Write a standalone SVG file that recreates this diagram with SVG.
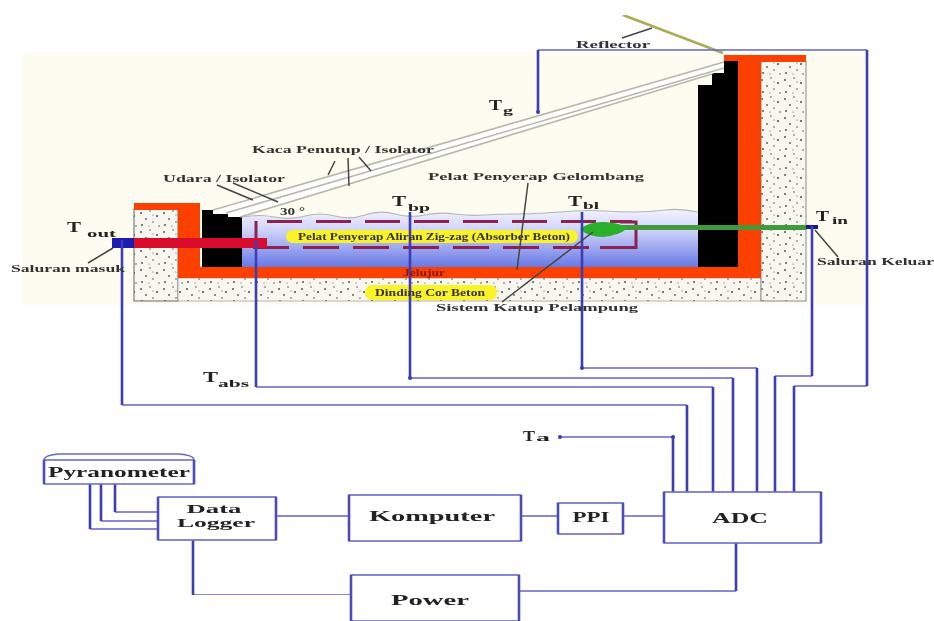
<svg xmlns="http://www.w3.org/2000/svg" width="934" height="621" viewBox="0 0 934 621">
<style>
.h{fill:none;stroke:#6464c6;stroke-width:1.6}
.v{fill:none;stroke:#3c3cb6;stroke-width:2.6}
.b{fill:#fff;stroke:#6a6ac8;stroke-width:1.6}
.sd{fill:none;stroke:#4c4cbc;stroke-width:2.6}
.l{font-family:"Liberation Serif",serif;font-weight:bold;fill:#222}
.s{font-size:10px;fill:#333}
.m{font-size:15px}
.T{font-size:15px}
.sub{font-size:10.5px}
.lead{fill:none;stroke:#444;stroke-width:1.5}
.or{fill:#fc3f05}
.k{fill:#000}
.gl{fill:none;stroke:#b8b8aa;stroke-width:1.6}
.dash{fill:none;stroke:#8c2050;stroke-width:3}
.yl{fill:#fbf32a}
.dot{fill:#3a3ab8}
</style>
<defs>
<linearGradient id="water" x1="0" y1="0" x2="0" y2="1"><stop offset="0" stop-color="#f2f2fe"/><stop offset=".35" stop-color="#d0d4fa"/><stop offset="1" stop-color="#6476e4"/></linearGradient>
<pattern id="conc" width="23" height="19" patternUnits="userSpaceOnUse">
<rect width="23" height="19" fill="#f7f7f0"/>
<g fill="#555"><circle cx="3" cy="4" r="1"/><circle cx="12" cy="2" r=".8"/><circle cx="19" cy="7" r="1.1"/><circle cx="8" cy="10" r=".9"/><circle cx="15" cy="13" r=".8"/><circle cx="4" cy="16" r="1"/><circle cx="21" cy="17" r=".8"/><circle cx="11" cy="17" r=".6"/><circle cx="15" cy="6" r=".6"/></g>
</pattern>
<filter id="soft" x="0" y="0" width="1" height="1"><feGaussianBlur stdDeviation="0.65"/></filter>
</defs>
<rect width="934" height="621" fill="#fff"/>
<g filter="url(#soft)">
<rect id="backdrop" x="22" y="52" width="848" height="253" fill="#fdfcf0"/>
<g id="collector">
<rect x="134" y="209" width="44" height="92" fill="url(#conc)" stroke="#666"/>
<rect x="178" y="278" width="583" height="23" fill="url(#conc)" stroke="#999" stroke-width=".7"/>
<rect x="761" y="61" width="45" height="240" fill="url(#conc)" stroke="#888"/>
<path d="M242 217Q260 214 275 217T305 216T335 216T365 215T395 214T425 215T455 214T485 215T515 214T545 213T575 211T605 211T635 212T665 210T698 212V268H242Z" fill="url(#water)" stroke="none"/>
<path d="M242 217Q260 214 275 217T305 216T335 216T365 215T395 214T425 215T455 214T485 215T515 214T545 213T575 211T605 211T635 212T665 210T698 212" fill="none" stroke="#b5b5b0" stroke-width="1.2"/>
<rect class="or" x="134" y="203" width="66" height="7"/>
<rect class="or" x="178" y="203" width="22" height="75"/>
<rect class="or" x="178" y="267" width="583" height="11"/>
<rect class="or" x="738" y="55" width="23" height="223"/>
<rect class="or" x="724" y="55" width="82" height="7"/>
<path class="k" d="M202 210H213V214H228V217H242V267H202Z"/>
<path class="k" d="M698 85H712V73H724V61H738V267H698Z"/>
<path d="M213 210L724 62V68L712 74L240 217L226 213Z" fill="#fff"/>
<path class="gl" d="M213 210L724 62M226 213L724 68M240 217L712 74"/>
<path d="M623 15L723 53" stroke="#a8ad55" stroke-width="2.5" fill="none"/>
<path class="dash" d="M256 247V221"/>
<path class="dash" stroke-dasharray="35 14" d="M267 221.500H632"/>
<path class="dash" stroke-dasharray="36 14" d="M253 247.500H590"/>
<path class="dash" d="M600 247.500H636V222H620"/>
<rect class="yl" x="286" y="230" width="292" height="13" rx="6.500"/>
<rect class="yl" x="365" y="285" width="132" height="15" rx="7"/>
<rect x="112" y="238" width="22" height="10" fill="#1a1ab0"/>
<rect x="134" y="238" width="133" height="10" fill="#d8102e"/>
<rect x="620" y="225" width="186" height="5" fill="#3f9a3a"/>
<path d="M580 229Q590 221 605 222Q620 223 628 228Q618 236 603 237Q588 237 580 229Z" fill="#2bb02b"/>
<rect x="806" y="225" width="12" height="4" fill="#16169a"/>
</g>
<g id="connectors">
<path class="h" d="M538 50H867M867 386H794M812 376H775M582 368H757M410 378H733M256 387H713M122 405H687M560 437H673M276 516H349M521 516H558M623 516H664M90 529H158M101 521H158M115 512H158M193 595H351M736 591H519"/>
<path class="v" d="M538 112V50M867 50V386M794 386V492M812 226V376M775 376V492M582 212V368M757 368V492M410 212V378M733 378V492M256 240V387M713 387V492M122 240V405M687 405V492M673 437V492M90 484V529M101 484V521M115 484V512M193 540V595M736 543V591"/>
<circle class="dot" cx="560" cy="437" r="2"/><circle class="dot" cx="673" cy="437" r="2"/>
<circle class="dot" cx="538" cy="112" r="2"/><circle class="dot" cx="410" cy="378" r="2"/><circle class="dot" cx="582" cy="368" r="2"/>
<path class="lead" d="M88 263L113 248M217 185L253 200M233 183L278 202M335 161L328 175M348 158L349 186M359 157L371 171M528 183L517 270M502 302L593 232M815 230L838 257M622 38L652 28"/>
</g>
</g>
<g filter="url(#soft)">
<g id="pyranometer"><path class="b" d="M44 484V460Q44 455 60 454H178Q194 455 194 460V484Z"/><path class="h" d="M44 460H194"/><path class="sd" d="M44 460V484M194 460V484"/><text class="l m" x="119" y="477" text-anchor="middle" textLength="142" lengthAdjust="spacingAndGlyphs">Pyranometer</text></g>
<g id="data-logger"><rect class="b" x="158" y="497" width="118" height="43"/><path class="sd" d="M158 497V540M276 497V540"/><text class="l" font-size="13" x="214" y="513" text-anchor="middle" textLength="55" lengthAdjust="spacingAndGlyphs">Data</text><text class="l" font-size="13" x="216" y="527" text-anchor="middle" textLength="78" lengthAdjust="spacingAndGlyphs">Logger</text></g>
<g id="komputer"><rect class="b" x="349" y="495" width="172" height="46"/><path class="sd" d="M349 495V541M521 495V541"/><text class="l m" x="432" y="521" text-anchor="middle" textLength="126" lengthAdjust="spacingAndGlyphs">Komputer</text></g>
<g id="ppi"><rect class="b" x="558" y="503" width="65" height="31"/><path class="sd" d="M558 503V534M623 503V534"/><text class="l m" x="591" y="522" text-anchor="middle" textLength="37" lengthAdjust="spacingAndGlyphs">PPI</text></g>
<g id="adc"><rect class="b" x="664" y="492" width="157" height="51"/><path class="sd" d="M664 492V543M821 492V543"/><text class="l m" x="740" y="523" text-anchor="middle" textLength="56" lengthAdjust="spacingAndGlyphs">ADC</text></g>
<g id="power"><rect class="b" x="351" y="575" width="168" height="46"/><path class="sd" d="M351 575V621M519 575V621"/><text class="l m" x="430" y="605" text-anchor="middle" textLength="78" lengthAdjust="spacingAndGlyphs">Power</text></g>
<g id="labels">
<text class="l s" x="576" y="48" textLength="74" lengthAdjust="spacingAndGlyphs">Reflector</text>
<text class="l s" x="252" y="153" textLength="182" lengthAdjust="spacingAndGlyphs">Kaca Penutup / Isolator</text>
<text class="l s" x="163" y="182" textLength="122" lengthAdjust="spacingAndGlyphs">Udara / Isolator</text>
<text class="l s" x="428" y="180" textLength="216" lengthAdjust="spacingAndGlyphs">Pelat Penyerap Gelombang</text>
<text class="l s" x="280" y="215" textLength="25" lengthAdjust="spacingAndGlyphs">30 °</text>
<text class="l s" x="298" y="240" textLength="272" lengthAdjust="spacingAndGlyphs">Pelat Penyerap Aliran Zig-zag (Absorber Beton)</text>
<text class="l s" x="403" y="276" textLength="42" lengthAdjust="spacingAndGlyphs" style="fill:#8a1a10">Jelujur</text>
<text class="l s" x="375" y="296" textLength="110" lengthAdjust="spacingAndGlyphs">Dinding Cor Beton</text>
<text class="l s" x="436" y="311" textLength="202" lengthAdjust="spacingAndGlyphs">Sistem Katup Pelampung</text>
<text class="l s" x="11" y="272" textLength="114" lengthAdjust="spacingAndGlyphs">Saluran masuk</text>
<text class="l s" x="817" y="265" textLength="117" lengthAdjust="spacingAndGlyphs">Saluran Keluar</text>
<text class="l T" x="67" y="232" textLength="14" lengthAdjust="spacingAndGlyphs">T</text><text class="l sub" x="87" y="237" textLength="29" lengthAdjust="spacingAndGlyphs">out</text>
<text class="l T" x="489" y="110" textLength="13" lengthAdjust="spacingAndGlyphs">T</text><text class="l sub" x="503" y="114" textLength="10" lengthAdjust="spacingAndGlyphs">g</text>
<text class="l T" x="392" y="206" textLength="14" lengthAdjust="spacingAndGlyphs">T</text><text class="l sub" x="408" y="211" textLength="22" lengthAdjust="spacingAndGlyphs">bp</text>
<text class="l T" x="568" y="206" textLength="14" lengthAdjust="spacingAndGlyphs">T</text><text class="l sub" x="583" y="209" textLength="16" lengthAdjust="spacingAndGlyphs">bl</text>
<text class="l T" x="816" y="221" textLength="13" lengthAdjust="spacingAndGlyphs">T</text><text class="l sub" x="832" y="224" textLength="16" lengthAdjust="spacingAndGlyphs">in</text>
<text class="l T" x="203" y="382" textLength="15" lengthAdjust="spacingAndGlyphs">T</text><text class="l sub" x="218" y="387" textLength="31" lengthAdjust="spacingAndGlyphs">abs</text>
<text class="l T" x="523" y="441" textLength="12" lengthAdjust="spacingAndGlyphs">T</text><text class="l sub" x="536" y="441" textLength="14" lengthAdjust="spacingAndGlyphs">a</text>
</g>
</g>
</svg>
